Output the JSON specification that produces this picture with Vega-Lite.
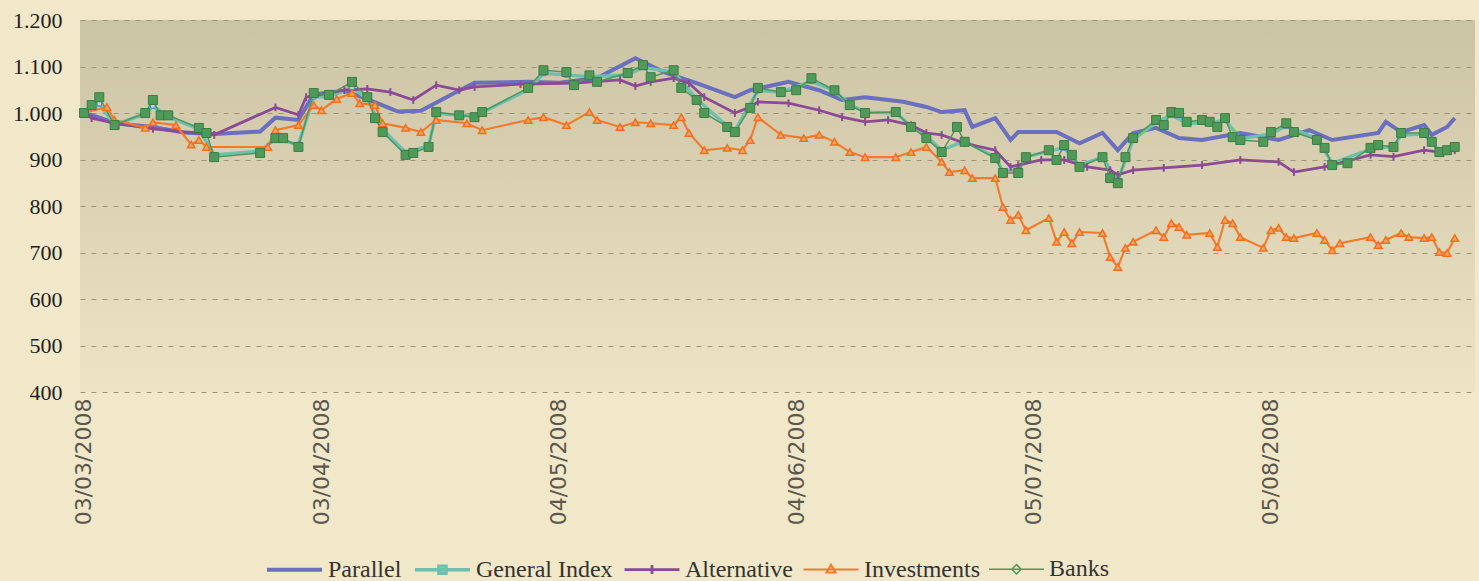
{
"$schema":"https://vega.github.io/schema/vega-lite/v6.json",
"width":1395,"height":372,
"autosize":{"type":"none"},
"padding":{"left":80,"top":20,"right":4,"bottom":189},
"background":"#f1e7c9",
"config":{"view":{"stroke":null,"fill":{"gradient":"linear","x1":0,"y1":0,"x2":0,"y2":1,"stops":[{"offset":0,"color":"#cac3a4"},{"offset":1,"color":"#eee4c5"}]}},
"legend":{"labelFont":"Liberation Serif","labelFontSize":24,"labelColor":"#333333","labelOffset":4,"columnPadding":6,"symbolSize":3025,"symbolOpacity":1}},
"data":{"values":[
{"d":"2008-03-03","s":"Parallel","v":1000},{"d":"2008-03-05","s":"Parallel","v":990},{"d":"2008-03-07","s":"Parallel","v":978},{"d":"2008-03-12","s":"Parallel","v":970},{"d":"2008-03-16","s":"Parallel","v":958},{"d":"2008-03-20","s":"Parallel","v":955},{"d":"2008-03-26","s":"Parallel","v":960},{"d":"2008-03-28","s":"Parallel","v":990},{"d":"2008-03-31","s":"Parallel","v":985},{"d":"2008-04-02","s":"Parallel","v":1040},{"d":"2008-04-06","s":"Parallel","v":1048},{"d":"2008-04-09","s":"Parallel","v":1030},{"d":"2008-04-13","s":"Parallel","v":1003},{"d":"2008-04-16","s":"Parallel","v":1005},{"d":"2008-04-20","s":"Parallel","v":1040},{"d":"2008-04-23","s":"Parallel","v":1065},{"d":"2008-04-30","s":"Parallel","v":1067},{"d":"2008-05-04","s":"Parallel","v":1065},{"d":"2008-05-09","s":"Parallel","v":1075},{"d":"2008-05-14","s":"Parallel","v":1118},{"d":"2008-05-18","s":"Parallel","v":1086},{"d":"2008-05-22","s":"Parallel","v":1064},{"d":"2008-05-27","s":"Parallel","v":1034},{"d":"2008-05-29","s":"Parallel","v":1049},{"d":"2008-06-03","s":"Parallel","v":1067},{"d":"2008-06-07","s":"Parallel","v":1049},{"d":"2008-06-10","s":"Parallel","v":1028},{"d":"2008-06-13","s":"Parallel","v":1034},{"d":"2008-06-18","s":"Parallel","v":1024},{"d":"2008-06-21","s":"Parallel","v":1013},{"d":"2008-06-23","s":"Parallel","v":1002},{"d":"2008-06-26","s":"Parallel","v":1006},{"d":"2008-06-27","s":"Parallel","v":970},{"d":"2008-06-30","s":"Parallel","v":989},{"d":"2008-07-02","s":"Parallel","v":942},{"d":"2008-07-03","s":"Parallel","v":959},{"d":"2008-07-08","s":"Parallel","v":959},{"d":"2008-07-11","s":"Parallel","v":935},{"d":"2008-07-14","s":"Parallel","v":957},{"d":"2008-07-16","s":"Parallel","v":920},{"d":"2008-07-18","s":"Parallel","v":957},{"d":"2008-07-21","s":"Parallel","v":968},{"d":"2008-07-24","s":"Parallel","v":946},{"d":"2008-07-27","s":"Parallel","v":942},{"d":"2008-08-01","s":"Parallel","v":957},{"d":"2008-08-06","s":"Parallel","v":942},{"d":"2008-08-10","s":"Parallel","v":963},{"d":"2008-08-13","s":"Parallel","v":942},{"d":"2008-08-19","s":"Parallel","v":957},{"d":"2008-08-20","s":"Parallel","v":981},{"d":"2008-08-22","s":"Parallel","v":959},{"d":"2008-08-25","s":"Parallel","v":974},{"d":"2008-08-26","s":"Parallel","v":953},{"d":"2008-08-28","s":"Parallel","v":970},{"d":"2008-08-29","s":"Parallel","v":989},
{"d":"2008-03-03","s":"General Index","v":1000},{"d":"2008-03-05","s":"General Index","v":1020},{"d":"2008-03-07","s":"General Index","v":975},{"d":"2008-03-11","s":"General Index","v":998},{"d":"2008-03-12","s":"General Index","v":1015},{"d":"2008-03-14","s":"General Index","v":992},{"d":"2008-03-18","s":"General Index","v":965},{"d":"2008-03-20","s":"General Index","v":910},{"d":"2008-03-26","s":"General Index","v":918},{"d":"2008-03-28","s":"General Index","v":945},{"d":"2008-03-31","s":"General Index","v":932},{"d":"2008-04-02","s":"General Index","v":1035},{"d":"2008-04-04","s":"General Index","v":1035},{"d":"2008-04-07","s":"General Index","v":1055},{"d":"2008-04-09","s":"General Index","v":1030},{"d":"2008-04-11","s":"General Index","v":965},{"d":"2008-04-14","s":"General Index","v":915},{"d":"2008-04-17","s":"General Index","v":930},{"d":"2008-04-18","s":"General Index","v":1000},{"d":"2008-04-21","s":"General Index","v":995},{"d":"2008-04-23","s":"General Index","v":993},{"d":"2008-04-30","s":"General Index","v":1050},{"d":"2008-05-02","s":"General Index","v":1085},{"d":"2008-05-05","s":"General Index","v":1082},{"d":"2008-05-08","s":"General Index","v":1078},{"d":"2008-05-13","s":"General Index","v":1082},{"d":"2008-05-15","s":"General Index","v":1098},{"d":"2008-05-19","s":"General Index","v":1088},{"d":"2008-05-22","s":"General Index","v":1030},{"d":"2008-05-26","s":"General Index","v":972},{"d":"2008-05-27","s":"General Index","v":962},{"d":"2008-05-30","s":"General Index","v":1048},{"d":"2008-06-02","s":"General Index","v":1045},{"d":"2008-06-06","s":"General Index","v":1068},{"d":"2008-06-09","s":"General Index","v":1048},{"d":"2008-06-11","s":"General Index","v":1018},{"d":"2008-06-13","s":"General Index","v":1002},{"d":"2008-06-17","s":"General Index","v":1000},{"d":"2008-06-19","s":"General Index","v":972},{"d":"2008-06-21","s":"General Index","v":950},{"d":"2008-06-23","s":"General Index","v":920},{"d":"2008-06-26","s":"General Index","v":940},{"d":"2008-06-30","s":"General Index","v":905},{"d":"2008-07-01","s":"General Index","v":875},{"d":"2008-07-03","s":"General Index","v":878},{"d":"2008-07-04","s":"General Index","v":905},{"d":"2008-07-07","s":"General Index","v":918},{"d":"2008-07-09","s":"General Index","v":925},{"d":"2008-07-11","s":"General Index","v":888},{"d":"2008-07-14","s":"General Index","v":905},{"d":"2008-07-16","s":"General Index","v":855},{"d":"2008-07-18","s":"General Index","v":942},{"d":"2008-07-21","s":"General Index","v":980},{"d":"2008-07-23","s":"General Index","v":995},{"d":"2008-07-25","s":"General Index","v":978},{"d":"2008-07-28","s":"General Index","v":978},{"d":"2008-07-30","s":"General Index","v":985},{"d":"2008-08-01","s":"General Index","v":945},{"d":"2008-08-05","s":"General Index","v":955},{"d":"2008-08-07","s":"General Index","v":972},{"d":"2008-08-11","s":"General Index","v":945},{"d":"2008-08-13","s":"General Index","v":892},{"d":"2008-08-18","s":"General Index","v":922},{"d":"2008-08-21","s":"General Index","v":928},{"d":"2008-08-22","s":"General Index","v":952},{"d":"2008-08-25","s":"General Index","v":955},{"d":"2008-08-27","s":"General Index","v":918},{"d":"2008-08-29","s":"General Index","v":925},
{"d":"2008-03-03","s":"Alternative","v":1000},{"d":"2008-03-04","s":"Alternative","v":989},{"d":"2008-03-07","s":"Alternative","v":978},{"d":"2008-03-12","s":"Alternative","v":966},{"d":"2008-03-20","s":"Alternative","v":953},{"d":"2008-03-28","s":"Alternative","v":1012},{"d":"2008-03-31","s":"Alternative","v":996},{"d":"2008-04-01","s":"Alternative","v":1034},{"d":"2008-04-06","s":"Alternative","v":1049},{"d":"2008-04-09","s":"Alternative","v":1052},{"d":"2008-04-12","s":"Alternative","v":1045},{"d":"2008-04-15","s":"Alternative","v":1028},{"d":"2008-04-18","s":"Alternative","v":1060},{"d":"2008-04-21","s":"Alternative","v":1049},{"d":"2008-04-23","s":"Alternative","v":1056},{"d":"2008-04-29","s":"Alternative","v":1062},{"d":"2008-05-06","s":"Alternative","v":1064},{"d":"2008-05-12","s":"Alternative","v":1071},{"d":"2008-05-14","s":"Alternative","v":1058},{"d":"2008-05-16","s":"Alternative","v":1067},{"d":"2008-05-19","s":"Alternative","v":1075},{"d":"2008-05-21","s":"Alternative","v":1064},{"d":"2008-05-23","s":"Alternative","v":1034},{"d":"2008-05-27","s":"Alternative","v":1000},{"d":"2008-05-29","s":"Alternative","v":1013},{"d":"2008-05-30","s":"Alternative","v":1024},{"d":"2008-06-03","s":"Alternative","v":1021},{"d":"2008-06-07","s":"Alternative","v":1006},{"d":"2008-06-10","s":"Alternative","v":991},{"d":"2008-06-13","s":"Alternative","v":981},{"d":"2008-06-16","s":"Alternative","v":985},{"d":"2008-06-19","s":"Alternative","v":974},{"d":"2008-06-21","s":"Alternative","v":957},{"d":"2008-06-23","s":"Alternative","v":953},{"d":"2008-06-26","s":"Alternative","v":935},{"d":"2008-06-30","s":"Alternative","v":920},{"d":"2008-07-02","s":"Alternative","v":884},{"d":"2008-07-03","s":"Alternative","v":888},{"d":"2008-07-06","s":"Alternative","v":899},{"d":"2008-07-09","s":"Alternative","v":899},{"d":"2008-07-12","s":"Alternative","v":884},{"d":"2008-07-15","s":"Alternative","v":877},{"d":"2008-07-16","s":"Alternative","v":867},{"d":"2008-07-18","s":"Alternative","v":877},{"d":"2008-07-22","s":"Alternative","v":882},{"d":"2008-07-27","s":"Alternative","v":888},{"d":"2008-08-01","s":"Alternative","v":899},{"d":"2008-08-06","s":"Alternative","v":895},{"d":"2008-08-08","s":"Alternative","v":873},{"d":"2008-08-12","s":"Alternative","v":884},{"d":"2008-08-13","s":"Alternative","v":888},{"d":"2008-08-18","s":"Alternative","v":910},{"d":"2008-08-21","s":"Alternative","v":906},{"d":"2008-08-25","s":"Alternative","v":920},{"d":"2008-08-27","s":"Alternative","v":916},{"d":"2008-08-29","s":"Alternative","v":920},
{"d":"2008-03-03","s":"Investments","v":1000},{"d":"2008-03-06","s":"Investments","v":1013},{"d":"2008-03-07","s":"Investments","v":985},{"d":"2008-03-11","s":"Investments","v":968},{"d":"2008-03-12","s":"Investments","v":980},{"d":"2008-03-15","s":"Investments","v":974},{"d":"2008-03-17","s":"Investments","v":932},{"d":"2008-03-18","s":"Investments","v":942},{"d":"2008-03-19","s":"Investments","v":927},{"d":"2008-03-27","s":"Investments","v":927},{"d":"2008-03-28","s":"Investments","v":963},{"d":"2008-03-31","s":"Investments","v":974},{"d":"2008-04-02","s":"Investments","v":1017},{"d":"2008-04-03","s":"Investments","v":1006},{"d":"2008-04-05","s":"Investments","v":1030},{"d":"2008-04-07","s":"Investments","v":1043},{"d":"2008-04-08","s":"Investments","v":1021},{"d":"2008-04-10","s":"Investments","v":1017},{"d":"2008-04-11","s":"Investments","v":978},{"d":"2008-04-14","s":"Investments","v":968},{"d":"2008-04-16","s":"Investments","v":959},{"d":"2008-04-18","s":"Investments","v":985},{"d":"2008-04-22","s":"Investments","v":978},{"d":"2008-04-24","s":"Investments","v":963},{"d":"2008-04-30","s":"Investments","v":985},{"d":"2008-05-02","s":"Investments","v":991},{"d":"2008-05-05","s":"Investments","v":974},{"d":"2008-05-08","s":"Investments","v":1002},{"d":"2008-05-09","s":"Investments","v":985},{"d":"2008-05-12","s":"Investments","v":970},{"d":"2008-05-14","s":"Investments","v":980},{"d":"2008-05-16","s":"Investments","v":978},{"d":"2008-05-19","s":"Investments","v":974},{"d":"2008-05-20","s":"Investments","v":991},{"d":"2008-05-21","s":"Investments","v":957},{"d":"2008-05-23","s":"Investments","v":920},{"d":"2008-05-26","s":"Investments","v":925},{"d":"2008-05-28","s":"Investments","v":920},{"d":"2008-05-29","s":"Investments","v":942},{"d":"2008-05-30","s":"Investments","v":991},{"d":"2008-06-02","s":"Investments","v":953},{"d":"2008-06-05","s":"Investments","v":946},{"d":"2008-06-07","s":"Investments","v":953},{"d":"2008-06-09","s":"Investments","v":938},{"d":"2008-06-11","s":"Investments","v":916},{"d":"2008-06-13","s":"Investments","v":905},{"d":"2008-06-17","s":"Investments","v":905},{"d":"2008-06-19","s":"Investments","v":916},{"d":"2008-06-21","s":"Investments","v":927},{"d":"2008-06-23","s":"Investments","v":895},{"d":"2008-06-24","s":"Investments","v":873},{"d":"2008-06-26","s":"Investments","v":877},{"d":"2008-06-27","s":"Investments","v":860},{"d":"2008-06-30","s":"Investments","v":860},{"d":"2008-07-01","s":"Investments","v":798},{"d":"2008-07-02","s":"Investments","v":770},{"d":"2008-07-03","s":"Investments","v":781},{"d":"2008-07-04","s":"Investments","v":748},{"d":"2008-07-07","s":"Investments","v":774},{"d":"2008-07-08","s":"Investments","v":723},{"d":"2008-07-09","s":"Investments","v":744},{"d":"2008-07-10","s":"Investments","v":720},{"d":"2008-07-11","s":"Investments","v":744},{"d":"2008-07-14","s":"Investments","v":742},{"d":"2008-07-15","s":"Investments","v":690},{"d":"2008-07-16","s":"Investments","v":669},{"d":"2008-07-17","s":"Investments","v":710},{"d":"2008-07-18","s":"Investments","v":723},{"d":"2008-07-21","s":"Investments","v":748},{"d":"2008-07-22","s":"Investments","v":733},{"d":"2008-07-23","s":"Investments","v":763},{"d":"2008-07-24","s":"Investments","v":755},{"d":"2008-07-25","s":"Investments","v":738},{"d":"2008-07-28","s":"Investments","v":742},{"d":"2008-07-29","s":"Investments","v":712},{"d":"2008-07-30","s":"Investments","v":770},{"d":"2008-07-31","s":"Investments","v":763},{"d":"2008-08-01","s":"Investments","v":733},{"d":"2008-08-04","s":"Investments","v":710},{"d":"2008-08-05","s":"Investments","v":748},{"d":"2008-08-06","s":"Investments","v":753},{"d":"2008-08-07","s":"Investments","v":733},{"d":"2008-08-08","s":"Investments","v":731},{"d":"2008-08-11","s":"Investments","v":742},{"d":"2008-08-12","s":"Investments","v":727},{"d":"2008-08-13","s":"Investments","v":705},{"d":"2008-08-14","s":"Investments","v":720},{"d":"2008-08-18","s":"Investments","v":733},{"d":"2008-08-19","s":"Investments","v":716},{"d":"2008-08-20","s":"Investments","v":727},{"d":"2008-08-22","s":"Investments","v":742},{"d":"2008-08-23","s":"Investments","v":733},{"d":"2008-08-25","s":"Investments","v":731},{"d":"2008-08-26","s":"Investments","v":733},{"d":"2008-08-27","s":"Investments","v":701},{"d":"2008-08-28","s":"Investments","v":699},{"d":"2008-08-29","s":"Investments","v":731},
{"d":"2008-03-03","s":"Banks","v":1000},{"d":"2008-03-04","s":"Banks","v":1017},{"d":"2008-03-05","s":"Banks","v":1034},{"d":"2008-03-07","s":"Banks","v":974},{"d":"2008-03-11","s":"Banks","v":1000},{"d":"2008-03-12","s":"Banks","v":1028},{"d":"2008-03-13","s":"Banks","v":995},{"d":"2008-03-14","s":"Banks","v":995},{"d":"2008-03-18","s":"Banks","v":968},{"d":"2008-03-19","s":"Banks","v":957},{"d":"2008-03-20","s":"Banks","v":905},{"d":"2008-03-26","s":"Banks","v":914},{"d":"2008-03-28","s":"Banks","v":946},{"d":"2008-03-29","s":"Banks","v":946},{"d":"2008-03-31","s":"Banks","v":927},{"d":"2008-04-02","s":"Banks","v":1043},{"d":"2008-04-04","s":"Banks","v":1039},{"d":"2008-04-07","s":"Banks","v":1067},{"d":"2008-04-09","s":"Banks","v":1034},{"d":"2008-04-10","s":"Banks","v":989},{"d":"2008-04-11","s":"Banks","v":959},{"d":"2008-04-14","s":"Banks","v":910},{"d":"2008-04-15","s":"Banks","v":914},{"d":"2008-04-17","s":"Banks","v":927},{"d":"2008-04-18","s":"Banks","v":1002},{"d":"2008-04-21","s":"Banks","v":995},{"d":"2008-04-23","s":"Banks","v":991},{"d":"2008-04-24","s":"Banks","v":1002},{"d":"2008-04-30","s":"Banks","v":1054},{"d":"2008-05-02","s":"Banks","v":1092},{"d":"2008-05-05","s":"Banks","v":1088},{"d":"2008-05-06","s":"Banks","v":1060},{"d":"2008-05-08","s":"Banks","v":1081},{"d":"2008-05-09","s":"Banks","v":1067},{"d":"2008-05-13","s":"Banks","v":1086},{"d":"2008-05-15","s":"Banks","v":1103},{"d":"2008-05-16","s":"Banks","v":1077},{"d":"2008-05-19","s":"Banks","v":1092},{"d":"2008-05-20","s":"Banks","v":1054},{"d":"2008-05-22","s":"Banks","v":1028},{"d":"2008-05-23","s":"Banks","v":1000},{"d":"2008-05-26","s":"Banks","v":970},{"d":"2008-05-27","s":"Banks","v":959},{"d":"2008-05-29","s":"Banks","v":1011},{"d":"2008-05-30","s":"Banks","v":1054},{"d":"2008-06-02","s":"Banks","v":1045},{"d":"2008-06-04","s":"Banks","v":1049},{"d":"2008-06-06","s":"Banks","v":1075},{"d":"2008-06-09","s":"Banks","v":1049},{"d":"2008-06-11","s":"Banks","v":1017},{"d":"2008-06-13","s":"Banks","v":1000},{"d":"2008-06-17","s":"Banks","v":1002},{"d":"2008-06-19","s":"Banks","v":970},{"d":"2008-06-21","s":"Banks","v":946},{"d":"2008-06-23","s":"Banks","v":916},{"d":"2008-06-25","s":"Banks","v":970},{"d":"2008-06-26","s":"Banks","v":938},{"d":"2008-06-30","s":"Banks","v":903},{"d":"2008-07-01","s":"Banks","v":871},{"d":"2008-07-03","s":"Banks","v":871},{"d":"2008-07-04","s":"Banks","v":905},{"d":"2008-07-07","s":"Banks","v":920},{"d":"2008-07-08","s":"Banks","v":899},{"d":"2008-07-09","s":"Banks","v":931},{"d":"2008-07-10","s":"Banks","v":910},{"d":"2008-07-11","s":"Banks","v":884},{"d":"2008-07-14","s":"Banks","v":905},{"d":"2008-07-15","s":"Banks","v":860},{"d":"2008-07-16","s":"Banks","v":849},{"d":"2008-07-17","s":"Banks","v":905},{"d":"2008-07-18","s":"Banks","v":946},{"d":"2008-07-21","s":"Banks","v":985},{"d":"2008-07-22","s":"Banks","v":974},{"d":"2008-07-23","s":"Banks","v":1002},{"d":"2008-07-24","s":"Banks","v":1000},{"d":"2008-07-25","s":"Banks","v":981},{"d":"2008-07-27","s":"Banks","v":985},{"d":"2008-07-28","s":"Banks","v":981},{"d":"2008-07-29","s":"Banks","v":970},{"d":"2008-07-30","s":"Banks","v":989},{"d":"2008-07-31","s":"Banks","v":948},{"d":"2008-08-01","s":"Banks","v":942},{"d":"2008-08-04","s":"Banks","v":938},{"d":"2008-08-05","s":"Banks","v":959},{"d":"2008-08-07","s":"Banks","v":978},{"d":"2008-08-08","s":"Banks","v":959},{"d":"2008-08-11","s":"Banks","v":942},{"d":"2008-08-12","s":"Banks","v":925},{"d":"2008-08-13","s":"Banks","v":888},{"d":"2008-08-15","s":"Banks","v":892},{"d":"2008-08-18","s":"Banks","v":925},{"d":"2008-08-19","s":"Banks","v":931},{"d":"2008-08-21","s":"Banks","v":927},{"d":"2008-08-22","s":"Banks","v":957},{"d":"2008-08-25","s":"Banks","v":957},{"d":"2008-08-26","s":"Banks","v":938},{"d":"2008-08-27","s":"Banks","v":916},{"d":"2008-08-28","s":"Banks","v":920},{"d":"2008-08-29","s":"Banks","v":927}
]},
"encoding":{
"x":{"field":"d","type":"temporal","scale":{"type":"utc","domain":[{"year":2008,"month":3,"date":2,"hours":11,"minutes":30,"utc":true},{"year":2008,"month":8,"date":31,"hours":15,"minutes":30,"utc":true}]},
"axis":{"values":[{"year":2008,"month":3,"date":3,"utc":true},{"year":2008,"month":4,"date":3,"utc":true},{"year":2008,"month":5,"date":4,"utc":true},{"year":2008,"month":6,"date":4,"utc":true},{"year":2008,"month":7,"date":5,"utc":true},{"year":2008,"month":8,"date":5,"utc":true}],"format":"%d/%m/%Y","labelAngle":-90,"title":null,"domain":false,"ticks":false,"grid":false,"labelFont":"DejaVu Sans","labelFontSize":22,"labelColor":"#5a584e","labelPadding":6,"labelOverlap":false,"labelFlush":false}},
"y":{"field":"v","type":"quantitative","scale":{"domain":[400,1200],"nice":false,"zero":false},
"axis":{"values":[400,500,600,700,800,900,1000,1100,1200],"title":null,"domain":false,"ticks":false,"grid":true,"gridDash":[5,6],"gridColor":"#9c957c","gridWidth":1,"labelFont":"Liberation Serif","labelFontSize":22,"labelColor":"#222222","labelPadding":18,"labelExpr":"replace(format(datum.value, ','), ',', '.')"}}
},
"layer":[
{"mark":{"type":"line","interpolate":"linear"},
"encoding":{
"color":{"field":"s","type":"nominal","scale":{"domain":["Parallel","General Index","Alternative","Investments","Banks"],"range":["#6a6fbf","#6cc0ad","#8c4a96","#f37a2c","#51975a"]}},
"strokeWidth":{"field":"s","type":"nominal","scale":{"domain":["Parallel","General Index","Alternative","Investments","Banks"],"range":[4,1.5,4,2,2.5]}},
"detail":{"field":"s"}}},
{"transform":[{"filter":"datum.s === 'General Index'"}],"mark":{"type":"point","shape":"square","size":20,"filled":true,"fill":"#c4d6ea","stroke":"#4f7fbf","strokeWidth":1,"opacity":1}},
{"transform":[{"filter":"datum.s === 'Alternative'"}],"mark":{"type":"point","shape":"M0,-1V1","size":60,"filled":false,"stroke":"#8c4a96","strokeWidth":2,"opacity":1}},
{"transform":[{"filter":"datum.s === 'Investments'"}],"mark":{"type":"point","shape":"triangle-up","size":55,"filled":true,"fill":"#f8a264","stroke":"#f0701e","strokeWidth":1.5,"opacity":1}},
{"transform":[{"filter":"datum.s === 'Banks'"}],"mark":{"type":"point","shape":"square","size":80,"filled":true,"fill":"#4f9a58","stroke":"#3b7d45","strokeWidth":1,"opacity":1}},
{"mark":{"type":"point","filled":false,"opacity":0},
"encoding":{
"color":{"field":"s","type":"nominal","scale":{"domain":["Parallel","General Index","Alternative","Investments","Banks"],"range":["#6a6fbf","#6cc0ad","#8c4a96","#f37a2c","#51975a"]},
"legend":{"orient":"none","legendX":185,"legendY":520,"direction":"horizontal","title":null,"symbolSize":3025,"symbolOpacity":1,"labelFont":"Liberation Serif","labelFontSize":24,"labelColor":"#333333","labelOffset":4,"columnPadding":6}},
"shape":{"field":"s","type":"nominal","scale":{"domain":["Parallel","General Index","Alternative","Investments","Banks"],"range":["M-1,0H1","M-1,0H1M-0.13,-0.13H0.13V0.13H-0.13Z","M-1,0H1M0,-0.16V0.16","M-1,0H1M0,-0.17L0.16,0.11H-0.16Z","M-1,0H1M0,-0.17L0.17,0L0,0.17L-0.17,0Z"]}},
"strokeWidth":{"field":"s","type":"nominal","scale":{"domain":["Parallel","General Index","Alternative","Investments","Banks"],"range":[4,1.5,4,2,2.5]}}}}
]
}
